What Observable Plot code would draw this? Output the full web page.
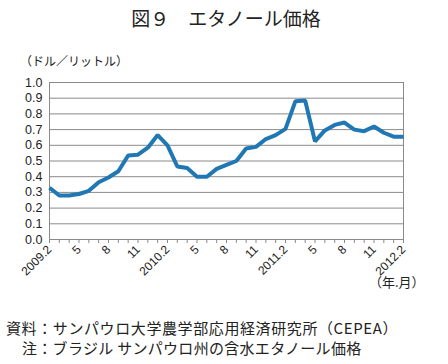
<!DOCTYPE html>
<html><head><meta charset="utf-8">
<script src="https://cdn.jsdelivr.net/npm/d3@7"></script>
<script src="https://cdn.jsdelivr.net/npm/@observablehq/plot@0.6"></script>
<style>
body{margin:0;background:#fff;}
#wrap{position:relative;width:448px;height:364px;font-family:"Liberation Sans","Noto Sans CJK JP",sans-serif;color:#222;}
.t{position:absolute;white-space:nowrap;font-family:"Noto Sans CJK JP","Liberation Sans",sans-serif;}
#chart{position:absolute;left:0;top:0;}
</style></head>
<body>
<div id="wrap">
<div id="chart"></div>
<div class="t" id="title" style="left:0;width:452px;text-align:center;top:4px;font-size:19px;">図９　エタノール価格</div>
<div class="t" style="left:20px;top:52px;font-size:12px;">（ドル／リットル）</div>
<div class="t" style="left:369px;top:272px;font-size:13px;">（年.月）</div>
<div class="t" style="left:6px;top:317px;font-size:15px;letter-spacing:0.6px;">資料：サンパウロ大学農学部応用経済研究所（CEPEA）</div>
<div class="t" style="left:22px;top:337px;font-size:15px;letter-spacing:0.3px;">注：ブラジル サンパウロ州の含水エタノール価格</div>
</div>
<script>
const months = [
 "2009.2","2009.3","2009.4","2009.5","2009.6","2009.7","2009.8","2009.9","2009.10","2009.11","2009.12",
 "2010.1","2010.2","2010.3","2010.4","2010.5","2010.6","2010.7","2010.8","2010.9","2010.10","2010.11","2010.12",
 "2011.1","2011.2","2011.3","2011.4","2011.5","2011.6","2011.7","2011.8","2011.9","2011.10","2011.11","2011.12",
 "2012.1","2012.2"];
const prices = [
 0.33,0.28,0.28,0.29,0.31,0.365,0.395,0.435,0.535,0.54,0.585,
 0.665,0.60,0.465,0.455,0.40,0.40,0.45,0.475,0.50,0.58,0.59,0.64,
 0.665,0.705,0.88,0.885,0.625,0.695,0.73,0.745,0.70,0.69,0.72,0.68,
 0.655,0.655];
const labeledMonths = ["2009.2","2009.5","2009.8","2009.11","2010.2","2010.5","2010.8","2010.11","2011.2","2011.5","2011.8","2011.11","2012.2"];
const tickLabels = ["2009.2","5","8","11","2010.2","5","8","11","2011.2","5","8","11","2012.2"];
const yTicks = [0,0.1,0.2,0.3,0.4,0.5,0.6,0.7,0.8,0.9,1.0];

const data = months.map((m,i)=>({month:m, price:prices[i]}));
const labelOf = new Map(labeledMonths.map((m,i)=>[m,tickLabels[i]]));

const chart = Plot.plot({
  width:448, height:364,
  marginLeft:49, marginRight:45, marginTop:82, marginBottom:125,
  style:{fontFamily:"Liberation Sans, Noto Sans CJK JP, sans-serif", fontSize:"12px", color:"#222", background:"transparent"},
  x:{type:"point", domain:months, padding:0, label:null},
  y:{domain:[0,1], label:null},
  marks:[
    Plot.gridY(yTicks,{stroke:"#8a8a8a", strokeOpacity:1, strokeWidth:1}),
    Plot.axisY(yTicks,{tickSize:0, tickPadding:7, tickFormat:d=>d.toFixed(1), fontSize:12.5, fill:"#222", label:null}),
    Plot.ruleX([months[0]],{stroke:"#8a8a8a"}),
    Plot.ruleX([months[months.length-1]],{stroke:"#8a8a8a"}),
    Plot.ruleY([0],{stroke:"#8a8a8a"}),
    Plot.axisX(months,{tickSize:4, stroke:"#8a8a8a", tickFormat:()=>"", label:null}),
    Plot.axisX(labeledMonths,{tickSize:0, tickPadding:8, tickRotate:-45, tickFormat:d=>labelOf.get(d), fontSize:12, fill:"#222", label:null}),
    Plot.line(data,{x:"month", y:"price", stroke:"#1f77b4", strokeWidth:4, strokeLinejoin:"miter", strokeLinecap:"butt"})
  ]
});
document.getElementById("chart").appendChild(chart);
</script>
</body></html>
